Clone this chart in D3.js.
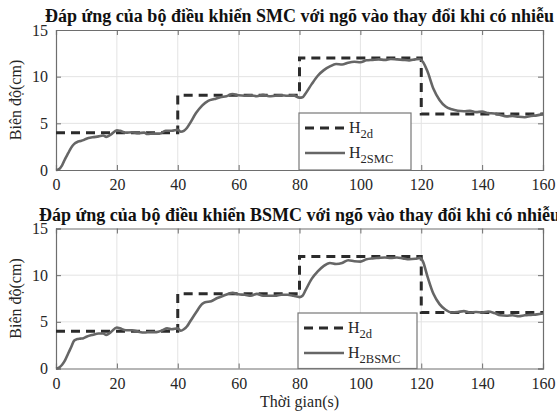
<!DOCTYPE html>
<html><head><meta charset="utf-8">
<script src="https://cdn.jsdelivr.net/npm/d3@7"></script>
<style>
html,body{margin:0;padding:0;background:#fff;}
svg{display:block;}
svg text{font-family:'Liberation Serif','Times New Roman','DejaVu Serif',serif !important;}
</style></head>
<body>
<svg id="c" width="557" height="413"></svg>
<script>
// ---- data ----
const xTicks = [0,20,40,60,80,100,120,140,160];
const yTicks = [0,5,10,15];
const titles = ["Đáp ứng của bộ điều khiển SMC với ngõ vào thay đổi khi có nhiễu",
                "Đáp ứng của bộ điều khiển BSMC với ngõ vào thay đổi khi có nhiễu"];
const yLabel = "Biên độ(cm)";
const xLabel = "Thời gian(s)";
const legendRef = ["H","2d"];
const legendOut = [["H","2SMC"],["H","2BSMC"]];
// reference (step) signal: [time, value]
const refSteps = [[0,4],[40,4],[40,8],[80,8],[80,12],[120,12],[120,6],[160,6]];
// SMC response: [time, value]
const smc = [[0,0],[1,0.1],[2,0.5],[3,1.2],[4,1.8],[5,2.4],[6,2.8],[7,3.0],[8,3.1],[9,3.2],[10,3.35],[12,3.5],[14,3.6],[15.5,3.7],[16.5,3.55],[18,3.8],[20,4.25],[21,4.2],[23,4.0],[25,4.05],[27,3.95],[29,4.0],[30,3.85],[32,3.9],[34,3.9],[36,4.2],[38,4.2],[40,4.3],[41,4.1],[42,4.2],[43,4.5],[44,5.0],[46,6.1],[48,6.9],[50,7.4],[52,7.6],[54,7.8],[56,7.9],[58,8.15],[60,8.0],[62,7.95],[64,8.0],[66,7.9],[68,8.05],[70,7.9],[72,7.95],[74,8.0],[76,7.95],[78,8.0],[80,7.75],[81,7.8],[82,8.2],[84,9.2],[86,10.1],[88,10.7],[90,11.1],[92,11.35],[94,11.3],[96,11.5],[98,11.6],[100,11.55],[102,11.75],[104,11.8],[106,11.85],[108,11.8],[110,11.9],[112,11.85],[114,11.8],[116,11.75],[118,11.85],[119.5,11.9],[120.5,11.6],[122,10.6],[124,8.7],[126,7.5],[128,6.8],[130,6.5],[132,6.35],[134,6.3],[136,6.35],[138,6.2],[140,6.25],[142,6.1],[144,6.05],[146,5.9],[148,5.75],[150,5.8],[152,5.7],[154,5.65],[156,5.8],[158,5.85],[160,6.0]];
// BSMC response: [time, value]
const bsmc = [[0,0],[1,0.1],[2,0.4],[3,0.9],[4,1.6],[5,2.3],[6,3.0],[7,3.15],[8,3.2],[9,3.25],[10,3.4],[12,3.6],[14,3.75],[15.5,3.75],[16.5,3.6],[18,3.9],[20,4.4],[21,4.3],[23,4.1],[25,4.1],[27,3.95],[29,3.85],[31,3.9],[33,3.9],[35,4.1],[36.5,4.3],[38,4.2],[40,4.3],[41,4.05],[42,4.2],[43,4.5],[44,5.0],[46,6.0],[48,6.9],[49,7.1],[51,7.2],[53,7.55],[55,7.8],[58,8.1],[60,7.95],[62,7.9],[64,7.8],[66,8.0],[68,7.8],[70,7.8],[72,7.8],[74,7.9],[76,7.9],[78,7.8],[80,7.65],[81,7.8],[82,8.4],[84,9.6],[86,10.4],[88,11.0],[90,11.3],[92,11.2],[94,11.3],[96,11.6],[98,11.5],[100,11.45],[102,11.7],[104,11.8],[106,11.85],[108,11.9],[110,11.85],[112,11.9],[114,11.8],[116,11.7],[118,11.75],[119.5,11.85],[120.5,11.5],[122,9.9],[124,8.0],[126,6.9],[128,6.3],[130,6.0],[132,6.05],[134,6.15],[136,6.0],[138,6.05],[140,6.0],[142,6.1],[144,5.95],[146,5.7],[148,5.65],[150,5.7],[152,5.6],[154,5.7],[156,5.75],[158,5.8],[160,5.9]];
const series = [smc, bsmc];

// ---- layout ----
const FONT = "'Liberation Serif','Times New Roman','DejaVu Serif',serif";
const svg = d3.select("#c");
const X0 = 56, X1 = 543;
const panels = [
  {top:30, bot:170, titleY:22, legend:{x:299,y:113,w:112,h:57}},
  {top:228.5, bot:368.5, titleY:221, legend:{x:298,y:313,w:119,h:55.5}}
];
const x = d3.scaleLinear().domain([0,160]).range([X0,X1]);
const titleNodes = [];

panels.forEach((p,i)=>{
  const y = d3.scaleLinear().domain([0,15]).range([p.bot,p.top]);
  const g = svg.append("g");
  // grid
  g.append("g").selectAll("line").data(xTicks.slice(1,-1)).join("line")
    .attr("x1",d=>x(d)).attr("x2",d=>x(d)).attr("y1",p.top).attr("y2",p.bot)
    .attr("stroke","#e3e3e3").attr("stroke-width",1);
  g.append("g").selectAll("line").data(yTicks.slice(1,-1)).join("line")
    .attr("y1",d=>y(d)).attr("y2",d=>y(d)).attr("x1",X0).attr("x2",X1)
    .attr("stroke","#e3e3e3").attr("stroke-width",1);
  // axes
  const ax = d3.axisBottom(x).tickValues(xTicks).tickSize(-5).tickPadding(10).tickFormat(d3.format("d"));
  const gb = g.append("g").attr("transform",`translate(0,${p.bot})`).call(ax);
  const gt = g.append("g").attr("transform",`translate(0,${p.top})`).call(d3.axisTop(x).tickValues(xTicks).tickSize(-5).tickFormat(""));
  const ay = d3.axisLeft(y).tickValues(yTicks).tickSize(-5).tickPadding(8);
  const gl = g.append("g").attr("transform",`translate(${X0},0)`).call(ay);
  const gr = g.append("g").attr("transform",`translate(${X1},0)`).call(d3.axisRight(y).tickValues(yTicks).tickSize(-5).tickFormat(""));
  [gb,gt,gl,gr].forEach(a=>{
    a.attr("font-family",FONT);
    a.select(".domain").attr("stroke","#6e6e6e").attr("stroke-width",1.2);
    a.selectAll(".tick line").attr("stroke","#6e6e6e");
    a.selectAll("text").attr("fill","#262626").attr("font-family",FONT).style("font-size","16px");
  });
  gb.selectAll("text").attr("dy","0.75em").attr("y",8);
  gl.selectAll("text").attr("dy","0.32em");
  // ref line
  const line = d3.line().x(d=>x(d[0])).y(d=>y(d[1]));
  g.append("path").datum(refSteps).attr("d",line).attr("fill","none")
    .attr("stroke","#2b2b2b").attr("stroke-width",3).attr("stroke-dasharray","9,6");
  // response
  const cl = d3.line().x(d=>x(d[0])).y(d=>y(d[1])).curve(d3.curveMonotoneX);
  g.append("path").datum(series[i]).attr("d",cl).attr("fill","none")
    .attr("stroke","#666").attr("stroke-width",2.6).attr("stroke-linejoin","round");
  // title
  const t = g.append("text").attr("x",(X0+X1)/2).attr("y",p.titleY).attr("text-anchor","middle")
    .attr("font-family",FONT).attr("font-weight","bold").attr("fill","#111").style("font-size","16px").text(titles[i]);
  titleNodes.push(t);
  // y label
  g.append("text").attr("transform",`translate(21,${(p.top+p.bot)/2}) rotate(-90)`)
    .attr("font-family",FONT).attr("text-anchor","middle").attr("fill","#262626").style("font-size","16px").text(yLabel);
  // legend
  const L = p.legend;
  const lg = g.append("g").attr("font-family",FONT);
  lg.append("rect").attr("x",L.x).attr("y",L.y).attr("width",L.w).attr("height",L.h)
    .attr("fill","#fff").attr("stroke","#777").attr("stroke-width",1.2);
  const r1 = L.y+15, r2 = L.y+40;
  lg.append("line").attr("x1",L.x+6).attr("x2",L.x+49).attr("y1",r1).attr("y2",r1)
    .attr("stroke","#2b2b2b").attr("stroke-width",3).attr("stroke-dasharray","9,6");
  lg.append("line").attr("x1",L.x+6).attr("x2",L.x+46).attr("y1",r2).attr("y2",r2)
    .attr("stroke","#666").attr("stroke-width",2.6);
  const t1 = lg.append("text").attr("x",L.x+50).attr("y",r1+5).attr("fill","#262626").style("font-size","16px");
  t1.append("tspan").text(legendRef[0]);
  t1.append("tspan").attr("dy",5).style("font-size","12.5px").text(legendRef[1]);
  const t2 = lg.append("text").attr("x",L.x+50).attr("y",r2+5).attr("fill","#262626").style("font-size","16px");
  t2.append("tspan").text(legendOut[i][0]);
  t2.append("tspan").attr("dy",5).style("font-size","12.5px").text(legendOut[i][1]);
});
// fit title size to reference width (~509px for the first title)
const w0 = titleNodes[0].node().getComputedTextLength();
const fs = 16*509/w0;
titleNodes.forEach(t=>t.style("font-size",fs.toFixed(2)+"px"));
svg.append("text").attr("x",(X0+X1)/2).attr("y",407).attr("text-anchor","middle")
  .attr("font-family",FONT).attr("fill","#262626").style("font-size","16px").text(xLabel);
</script>
</body></html>
